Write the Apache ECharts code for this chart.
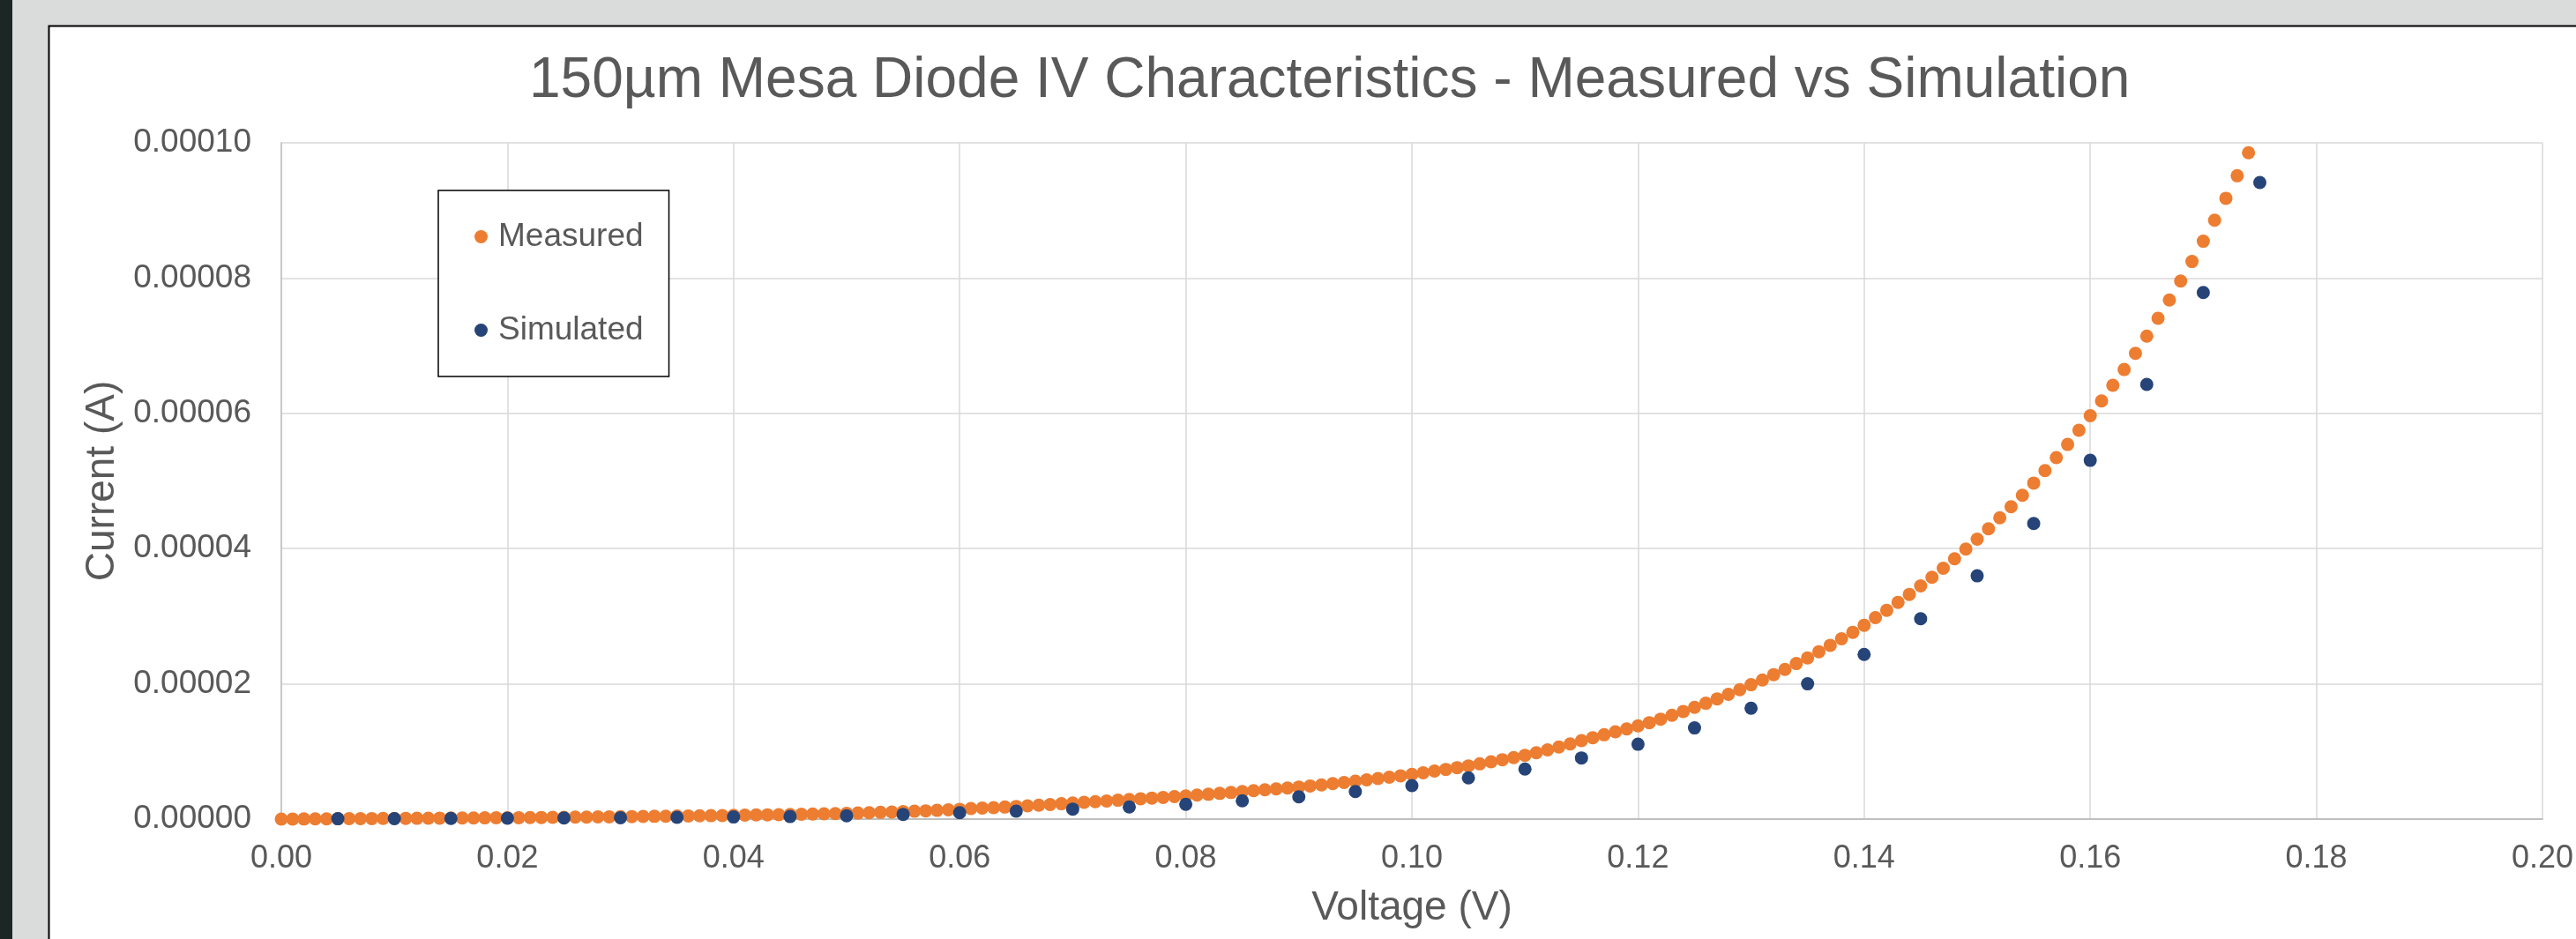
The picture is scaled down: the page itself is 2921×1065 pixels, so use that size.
<!DOCTYPE html>
<html>
<head>
<meta charset="utf-8">
<title>150µm Mesa Diode IV</title>
<script src="https://cdn.jsdelivr.net/npm/echarts@6/dist/echarts.min.js"></script>
<style>
  html, body { margin: 0; padding: 0; background: #d9dcdb; }
  #main { width: 2921px; height: 1065px; }
</style>
</head>
<body>
<div id="main"></div>
<script>
// measured sweep: 0 V .. 0.174 V, 1 mV step (values in µA)
var measuredStart = 0;
var measuredStep = 0.001;
var measuredUA = [
  0, 0.01, 0.02, 0.03, 0.04, 0.05, 0.06, 0.07, 0.08, 0.09, 0.10,
  0.11, 0.12, 0.13, 0.14, 0.15, 0.16, 0.17, 0.18, 0.19, 0.20,
  0.21, 0.23, 0.24, 0.26, 0.27, 0.29, 0.30, 0.32, 0.33, 0.35,
  0.37, 0.39, 0.41, 0.43, 0.45, 0.47, 0.49, 0.51, 0.53, 0.56,
  0.58, 0.61, 0.63, 0.66, 0.69, 0.72, 0.75, 0.78, 0.82, 0.86,
  0.90, 0.95, 1.00, 1.05, 1.10, 1.16, 1.22, 1.29, 1.36, 1.45,
  1.56, 1.63, 1.70, 1.78, 1.87, 1.96, 2.06, 2.16, 2.27, 2.38,
  2.48, 2.58, 2.68, 2.79, 2.91, 3.01, 3.11, 3.21, 3.32, 3.43,
  3.55, 3.67, 3.80, 3.93, 4.07, 4.20, 4.33, 4.46, 4.60, 4.74,
  4.90, 5.06, 5.24, 5.42, 5.61, 5.80, 5.99, 6.19, 6.40, 6.61,
  6.85, 7.10, 7.35, 7.61, 7.87, 8.17, 8.47, 8.78, 9.10, 9.43,
  9.82, 10.23, 10.66, 11.12, 11.61, 12.04, 12.47, 12.90, 13.34, 13.79,
  14.26, 14.78, 15.35, 15.92, 16.53, 17.13, 17.78, 18.44, 19.14, 19.87,
  20.57, 21.36, 22.14, 23.00, 23.84, 24.75, 25.70, 26.66, 27.62, 28.66,
  29.79, 30.88, 32.05, 33.23, 34.48, 35.75, 37.09, 38.49, 39.92, 41.40,
  42.92, 44.55, 46.19, 47.89, 49.69, 51.53, 53.45, 55.40, 57.50, 59.64,
  61.84, 64.14, 66.48, 68.87, 71.42, 74.06, 76.76, 79.56, 82.45, 85.45,
  88.55, 91.80, 95.13, 98.54
];

// simulation: 0.005 V .. 0.175 V, 5 mV step (values in µA)
var simulatedStart = 0.005;
var simulatedStep = 0.005;
var simulatedUA = [
  0.05, 0.07, 0.10, 0.13, 0.17, 0.21, 0.26, 0.31, 0.38, 0.50,
  0.70, 0.95, 1.17, 1.48, 1.79, 2.18, 2.70, 3.30, 4.08, 4.96,
  6.09, 7.40, 9.04, 11.07, 13.48, 16.40, 20.00, 24.35, 29.62, 35.97,
  43.71, 53.05, 64.28, 77.86, 94.14
];

var legendNames = ["Measured", "Simulated"];
var seriesColors = ["#ed7d31", "#264478"];

var textColor = "#595959";
var fontName = "'Liberation Sans', Arial, sans-serif";

function toPoints(start, step, valsUA) {
  var pts = [];
  for (var i = 0; i < valsUA.length; i++) {
    pts.push([+(start + i * step).toFixed(3), valsUA[i] * 1e-6]);
  }
  return pts;
}

var myChart = echarts.init(document.getElementById("main"), null, { renderer: "canvas" });

var option = {
  animation: false,
  backgroundColor: "#d9dcdb",
  color: seriesColors,
  // frame around the chart area (dark strip, grey margin, white sheet)
  graphic: [
    {
      type: "rect",
      z: -10,
      silent: true,
      shape: { x: 0, y: 0, width: 14, height: 1065 },
      style: { fill: "#1b2625" },
    },
    {
      type: "rect",
      z: -10,
      silent: true,
      shape: { x: 55.5, y: 29.5, width: 2900, height: 1100 },
      style: { fill: "#ffffff", stroke: "#000000", lineWidth: 2 },
    },
  ],
  title: {
    text: "150µm Mesa Diode IV Characteristics - Measured vs Simulation",
    left: 600,
    top: 60,
    padding: 0,
    textStyle: {
      color: textColor,
      fontFamily: fontName,
      fontWeight: "normal",
      fontSize: 64,
      lineHeight: 64,
    },
  },
  legend: {
    data: legendNames,
    orient: "vertical",
    left: 497,
    top: 216,
    padding: [34, 29, 34, 41],
    itemGap: 69,
    itemWidth: 15,
    itemHeight: 15,
    icon: "circle",
    borderColor: "#000000",
    borderWidth: 1.5,
    backgroundColor: "#ffffff",
    textStyle: {
      color: textColor,
      fontFamily: fontName,
      fontSize: 37,
      lineHeight: 37,
      padding: [0, 0, 0, 7],
    },
  },
  grid: {
    left: 319,
    top: 162,
    right: 33,
    bottom: 136,
    containLabel: false,
  },
  xAxis: {
    type: "value",
    min: 0,
    max: 0.2,
    interval: 0.02,
    name: "Voltage (V)",
    nameLocation: "middle",
    nameGap: 78,
    nameTextStyle: {
      color: textColor,
      fontFamily: fontName,
      fontSize: 46,
      lineHeight: 46,
    },
    axisLine: {
      show: true,
      onZero: false,
      lineStyle: { color: "#bfbfbf", width: 2 },
    },
    axisTick: { show: false },
    axisLabel: {
      color: textColor,
      fontFamily: fontName,
      fontSize: 36,
      margin: 27,
      formatter: function (v) {
        return v.toFixed(2);
      },
    },
    splitLine: {
      show: true,
      lineStyle: { color: "#d9d9d9", width: 1.5 },
    },
  },
  yAxis: {
    type: "value",
    min: 0,
    max: 0.0001,
    interval: 0.00002,
    name: "Current (A)",
    nameLocation: "middle",
    nameGap: 180,
    nameRotate: 90,
    nameTextStyle: {
      color: textColor,
      fontFamily: fontName,
      fontSize: 46,
      lineHeight: 46,
    },
    axisLine: {
      show: true,
      lineStyle: { color: "#bfbfbf", width: 1.5 },
    },
    axisTick: { show: false },
    axisLabel: {
      color: textColor,
      fontFamily: fontName,
      fontSize: 37,
      margin: 34,
      formatter: function (v) {
        return v.toFixed(5);
      },
    },
    splitLine: {
      show: true,
      lineStyle: { color: "#d9d9d9", width: 1.5 },
    },
  },
  series: [
    {
      name: legendNames[0],
      type: "scatter",
      symbol: "circle",
      symbolSize: 15,
      itemStyle: { color: seriesColors[0], opacity: 1 },
      data: toPoints(measuredStart, measuredStep, measuredUA),
    },
    {
      name: legendNames[1],
      type: "scatter",
      symbol: "circle",
      symbolSize: 15,
      itemStyle: { color: seriesColors[1], opacity: 1 },
      data: toPoints(simulatedStart, simulatedStep, simulatedUA),
    },
  ],
};
myChart.setOption(option);
</script>
</body>
</html>
